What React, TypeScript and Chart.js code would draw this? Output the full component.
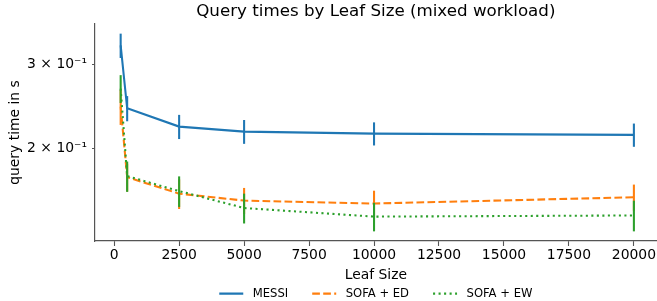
import React, { useEffect, useRef } from 'react';
import { Chart, registerables } from 'chart.js';

Chart.register(...registerables);

// ---- data ----
const leafSizes = [250, 500, 2500, 5000, 10000, 20000];
const messiTimes = [0.329, 0.2426, 0.222, 0.2167, 0.2146, 0.2133];
const messiErr = [0.0194, 0.0148, 0.013, 0.0125, 0.012, 0.012];
const sofaEdTimes = [0.2444, 0.1737, 0.1604, 0.1551, 0.1529, 0.1576];
const sofaEdErr = [0.0206, 0.0117, 0.0115, 0.0098, 0.0098, 0.01];
const sofaEwTimes = [0.2669, 0.1746, 0.1624, 0.1496, 0.1435, 0.1443];
const sofaEwErr = [0.018, 0.0128, 0.012, 0.0108, 0.0099, 0.0107];
const seriesLabels = ['MESSI', 'SOFA + ED', 'SOFA + EW'];
const xTickValues = [0, 2500, 5000, 7500, 10000, 12500, 15000, 17500, 20000];
const yTickValues = [0.2, 0.3];
const yTickLabels = ['2 × 10⁻¹', '3 × 10⁻¹'];

const FONT = 'DejaVu Sans';
const LW = 2.08;
const AXIS_COLOR = '#555';

const errorBarPlugin = {
  id: 'errorBars',
  afterDatasetDraw(chart: any, args: any) {
    const ds = chart.data.datasets[args.index];
    const errs: number[] | undefined = ds.errors;
    if (!errs) return;
    const yScale = chart.scales.y;
    const ctx = chart.ctx;
    ctx.save();
    ctx.strokeStyle = ds.borderColor;
    ctx.lineWidth = LW;
    ctx.setLineDash([]);
    ctx.lineCap = 'butt';
    args.meta.data.forEach((pt: any, i: number) => {
      const v = ds.data[i].y;
      const e = errs[i];
      const top = yScale.getPixelForValue(v + e);
      const bot = yScale.getPixelForValue(v - e);
      ctx.beginPath();
      ctx.moveTo(pt.x, top);
      ctx.lineTo(pt.x, bot);
      ctx.stroke();
    });
    ctx.restore();
  },
};

function toPoints(ys: number[]) {
  return leafSizes.map((x, i) => ({ x, y: ys[i] }));
}

export default function App() {
  const canvasRef = useRef<HTMLCanvasElement | null>(null);

  useEffect(() => {
    document.body.style.margin = '0';
    const canvas = canvasRef.current;
    if (!canvas) return;

    const common = {
      borderWidth: LW,
      pointRadius: 0,
      pointHoverRadius: 0,
      tension: 0,
      fill: false,
      borderCapStyle: 'butt',
    };

    const chart = new Chart(canvas, {
      type: 'line',
      data: {
        datasets: [
          {
            ...common,
            label: seriesLabels[0],
            data: toPoints(messiTimes),
            errors: messiErr,
            borderColor: '#1f77b4',
            backgroundColor: '#1f77b4',
            borderDash: [],
            order: 3,
          } as any,
          {
            ...common,
            label: seriesLabels[1],
            data: toPoints(sofaEdTimes),
            errors: sofaEdErr,
            borderColor: '#ff7f0e',
            backgroundColor: '#ff7f0e',
            borderDash: [7.7, 3.3],
            order: 2,
          } as any,
          {
            ...common,
            label: seriesLabels[2],
            data: toPoints(sofaEwTimes),
            errors: sofaEwErr,
            borderColor: '#2ca02c',
            backgroundColor: '#2ca02c',
            borderDash: [2.08, 3.43],
            order: 1,
          } as any,
        ],
      },
      options: {
        responsive: false,
        animation: false,
        devicePixelRatio: 1,
        layout: { padding: { top: 0, left: 0, right: 0, bottom: -8.4 } },
        plugins: {
          tooltip: { enabled: false },
          title: {
            display: true,
            text: 'Query times by Leaf Size (mixed workload)',
            color: '#000',
            font: { family: FONT, size: 16.7, weight: 'normal' },
            padding: { top: 2, bottom: 2 },
            fullSize: false,
          },
          legend: {
            display: true,
            position: 'bottom',
            fullSize: false,
            labels: {
              color: '#000',
              font: { family: FONT, size: 11.6 },
              usePointStyle: true,
              pointStyle: 'line',
              pointStyleWidth: 24,
              padding: 24,
              sort: (a: any, b: any) => a.datasetIndex - b.datasetIndex,
              generateLabels: (ch: any) => {
                const items = (Chart as any).defaults.plugins.legend.labels.generateLabels(ch);
                return items.map((it: any) => {
                  const ds = ch.data.datasets[it.datasetIndex];
                  return {
                    ...it,
                    text: ' ' + ds.label,
                    lineDash: ds.borderDash,
                    lineWidth: LW,
                    strokeStyle: ds.borderColor,
                    pointStyle: 'line',
                    lineCap: 'butt',
                  };
                });
              },
            },
          },
        },
        scales: {
          x: {
            type: 'linear',
            position: 'bottom',
            min: -737.5,
            max: 20877,
            bounds: 'data',
            afterBuildTicks: (s: any) => {
              s.ticks = xTickValues.map((v) => ({ value: v }));
            },
            afterFit: (s: any) => {
              s.height = 22.8;
            },
            ticks: {
              autoSkip: false,
              maxRotation: 0,
              minRotation: 0,
              padding: 1,
              color: '#000',
              font: { family: FONT, size: 13.9 },
              callback: (v: any) => String(v),
            },
            grid: {
              display: true,
              drawOnChartArea: false,
              drawTicks: true,
              tickLength: 5,
              tickColor: AXIS_COLOR,
              tickWidth: 1.1,
            },
            border: { display: true, color: AXIS_COLOR, width: 1.2 },
            title: {
              display: true,
              text: 'Leaf Size',
              color: '#000',
              font: { family: FONT, size: 13.9 },
              padding: { top: 0, bottom: -20.2 },
            },
          },
          y: {
            type: 'logarithmic',
            position: 'left',
            min: 0.1275,
            max: 0.365,
            bounds: 'data',
            afterBuildTicks: (s: any) => {
              s.ticks = yTickValues.map((v) => ({ value: v }));
            },
            afterFit: (s: any) => {
              s.width = 95;
            },
            ticks: {
              padding: 5,
              color: '#000',
              font: { family: FONT, size: 13.9 },
              callback: (v: any) => {
                const idx = yTickValues.findIndex((t) => Math.abs(t - v) < 1e-9);
                return idx >= 0 ? yTickLabels[idx] : '';
              },
            },
            grid: {
              display: true,
              drawOnChartArea: false,
              drawTicks: true,
              tickLength: 3,
              tickColor: AXIS_COLOR,
              tickWidth: 1.1,
            },
            border: { display: true, color: AXIS_COLOR, width: 1.2 },
            title: {
              display: true,
              text: 'query time in s',
              color: '#000',
              font: { family: FONT, size: 13.9 },
              padding: { top: 7, bottom: 0 },
            },
          },
        },
      } as any,
      plugins: [errorBarPlugin],
    });

    return () => {
      chart.destroy();
    };
  }, []);

  return (
    <div style={{ width: 657, height: 301, overflow: 'hidden', background: '#fff' }}>
      <canvas ref={canvasRef} width={657} height={301} style={{ display: 'block' }} />
    </div>
  );
}
